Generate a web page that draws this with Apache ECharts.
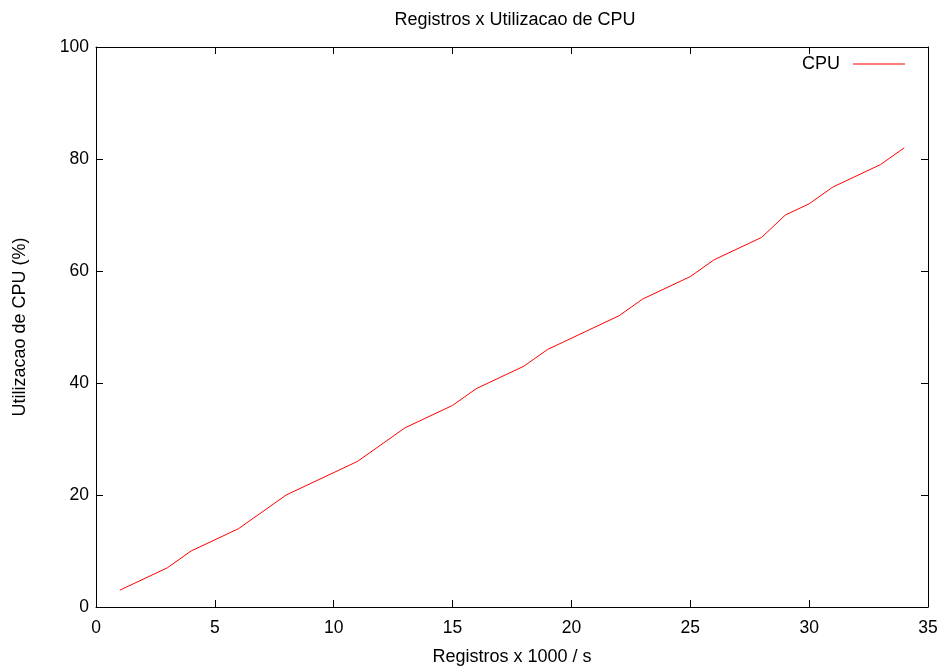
<!DOCTYPE html>
<html>
<head>
<meta charset="utf-8">
<script src="https://cdn.jsdelivr.net/npm/echarts@6/dist/echarts.min.js"></script>
<style>
  html, body { margin: 0; padding: 0; background: #fff; }
  #main { width: 943px; height: 667px; }
</style>
</head>
<body>
<div id="main"></div>
<script>
// registros (x1000/s) e uso de CPU (%)
var registros = [1, 3, 4, 6, 8, 11, 13, 15, 16, 18, 19, 22, 23, 25, 26, 28, 29, 30, 31, 33, 34];
var cpu = [3, 7, 10, 14, 20, 26, 32, 36, 39, 43, 46, 52, 55, 59, 62, 66, 70, 72, 75, 79, 82];

var pontos = registros.map(function (r, i) { return [r, cpu[i]]; });

var fonte = 'Liberation Sans, Arial, sans-serif';
var myChart = echarts.init(document.getElementById('main'));

var eixoBase = {
	type: 'value',
	axisLine: { show: true, onZero: false, lineStyle: { color: '#000', width: 1 } },
	axisTick: { show: true, inside: true, length: 7, lineStyle: { color: '#000' } },
	splitLine: { show: false }
};

option = {
	animation: false,
	backgroundColor: '#fff',
	title: {
		text: 'Registros x Utilizacao de CPU',
		left: 510,
		textAlign: 'center',
		top: 6,
		textStyle: { fontFamily: fonte, fontSize: 18, fontWeight: 'normal', color: '#000' }
	},
	legend: {
		right: 33,
		top: 50,
		align: 'right',
		icon: 'rect',
		itemWidth: 52,
		itemHeight: 1,
		textStyle: { fontFamily: fonte, fontSize: 18, color: '#000', padding: [0, 8, 0, 0] },
		data: ['CPU']
	},
	grid: { left: 96, right: 15, top: 47, bottom: 60, containLabel: false, outerBoundsMode: 'none' },
	xAxis: [
		Object.assign({}, eixoBase, {
			min: 0, max: 35, interval: 5,
			position: 'bottom',
			name: 'Registros x 1000 / s',
			nameLocation: 'middle',
			nameGap: 41,
			nameTextStyle: { fontFamily: fonte, fontSize: 18, color: '#000' },
			axisLabel: { fontFamily: fonte, fontSize: 17.5, color: '#000', margin: 12 }
		}),
		Object.assign({}, eixoBase, {
			min: 0, max: 35, interval: 5,
			position: 'top',
			axisLabel: { show: false }
		})
	],
	yAxis: [
		Object.assign({}, eixoBase, {
			min: 0, max: 100, interval: 20,
			position: 'left',
			name: 'Utilizacao de CPU (%)',
			nameLocation: 'middle',
			nameGap: 67,
			nameTextStyle: { fontFamily: fonte, fontSize: 18, color: '#000' },
			axisLabel: { fontFamily: fonte, fontSize: 17.5, color: '#000', margin: 7 }
		}),
		Object.assign({}, eixoBase, {
			min: 0, max: 100, interval: 20,
			position: 'right',
			axisLabel: { show: false }
		})
	],
	series: [{
		name: 'CPU',
		type: 'line',
		data: pontos,
		showSymbol: false,
		symbol: 'none',
		itemStyle: { color: '#ff0000' },
		lineStyle: { color: '#ff0000', width: 1 }
	}]
};
myChart.setOption(option);
</script>
</body>
</html>
